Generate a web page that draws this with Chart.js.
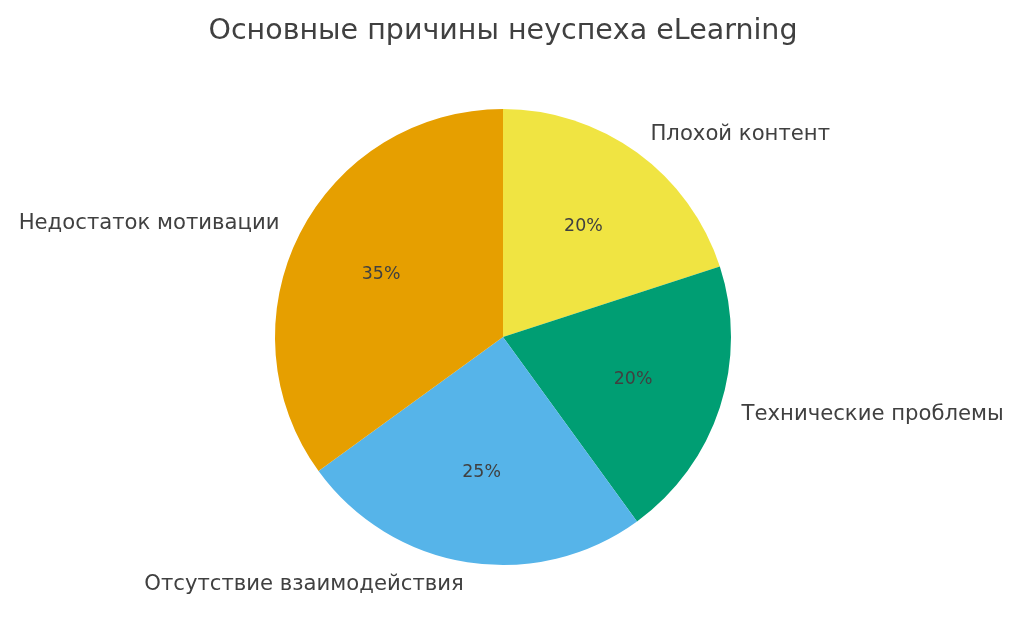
<!DOCTYPE html>
<html>
<head>
<meta charset="utf-8">
<script src="https://cdn.jsdelivr.net/npm/chart.js@4"></script>
<style>
  html, body { margin: 0; padding: 0; background: #fff; }
  #wrap { width: 1024px; height: 641px; }
</style>
</head>
<body>
<div id="wrap"><canvas id="pieChart" width="1024" height="641"></canvas></div>
<script>
// Данные диаграммы
const titleText = 'Основные причины неуспеха eLearning';
const categories = ['Плохой контент', 'Технические проблемы', 'Отсутствие взаимодействия', 'Недостаток мотивации'];
const shares = [20, 20, 25, 35];
const sliceColors = ['#F0E442', '#009E73', '#56B4E9', '#E69F00'];

const textColor = '#404040';
const fontFamily = '"DejaVu Sans", Verdana, sans-serif';

// Подписи в стиле matplotlib: названия снаружи, проценты внутри
const pieLabels = {
    id: 'pieLabels',
    afterDraw(chart) {
        const ctx = chart.ctx;
        const meta = chart.getDatasetMeta(0);
        const total = shares.reduce((a, b) => a + b, 0);

        ctx.save();
        ctx.fillStyle = textColor;

        // Заголовок
        ctx.font = '28.5px ' + fontFamily;
        ctx.textAlign = 'center';
        ctx.textBaseline = 'middle';
        ctx.fillText(titleText, 503, 32);

        meta.data.forEach((arc, i) => {
            const mid = (arc.startAngle + arc.endAngle) / 2;
            const r = arc.outerRadius;
            const cx = arc.x, cy = arc.y;

            // Название категории
            const lx = cx + Math.cos(mid) * r * 1.1;
            const ly = cy + Math.sin(mid) * r * 1.1;
            ctx.font = '21.2px ' + fontFamily;
            ctx.textAlign = Math.cos(mid) >= 0 ? 'left' : 'right';
            ctx.textBaseline = 'middle';
            ctx.fillText(categories[i], lx, ly);

            // Процент
            const px = cx + Math.cos(mid) * r * 0.6;
            const py = cy + Math.sin(mid) * r * 0.6;
            ctx.font = '17.4px ' + fontFamily;
            ctx.textAlign = 'center';
            const pct = Math.round(shares[i] / total * 100) + '%';
            ctx.fillText(pct, px, py);
        });
        ctx.restore();
    }
};

document.addEventListener('DOMContentLoaded', function() {
    const ctx = document.getElementById('pieChart').getContext('2d');
    new Chart(ctx, {
        type: 'pie',
        data: {
            labels: categories,
            datasets: [{
                data: shares,
                backgroundColor: sliceColors,
                borderWidth: 0
            }]
        },
        options: {
            responsive: false,
            animation: false,
            layout: {
                padding: { top: 109, bottom: 76, left: 275, right: 293 }
            },
            plugins: {
                legend: { display: false },
                tooltip: { enabled: false },
                title: { display: false }
            }
        },
        plugins: [pieLabels]
    });
});
</script>
</body>
</html>
